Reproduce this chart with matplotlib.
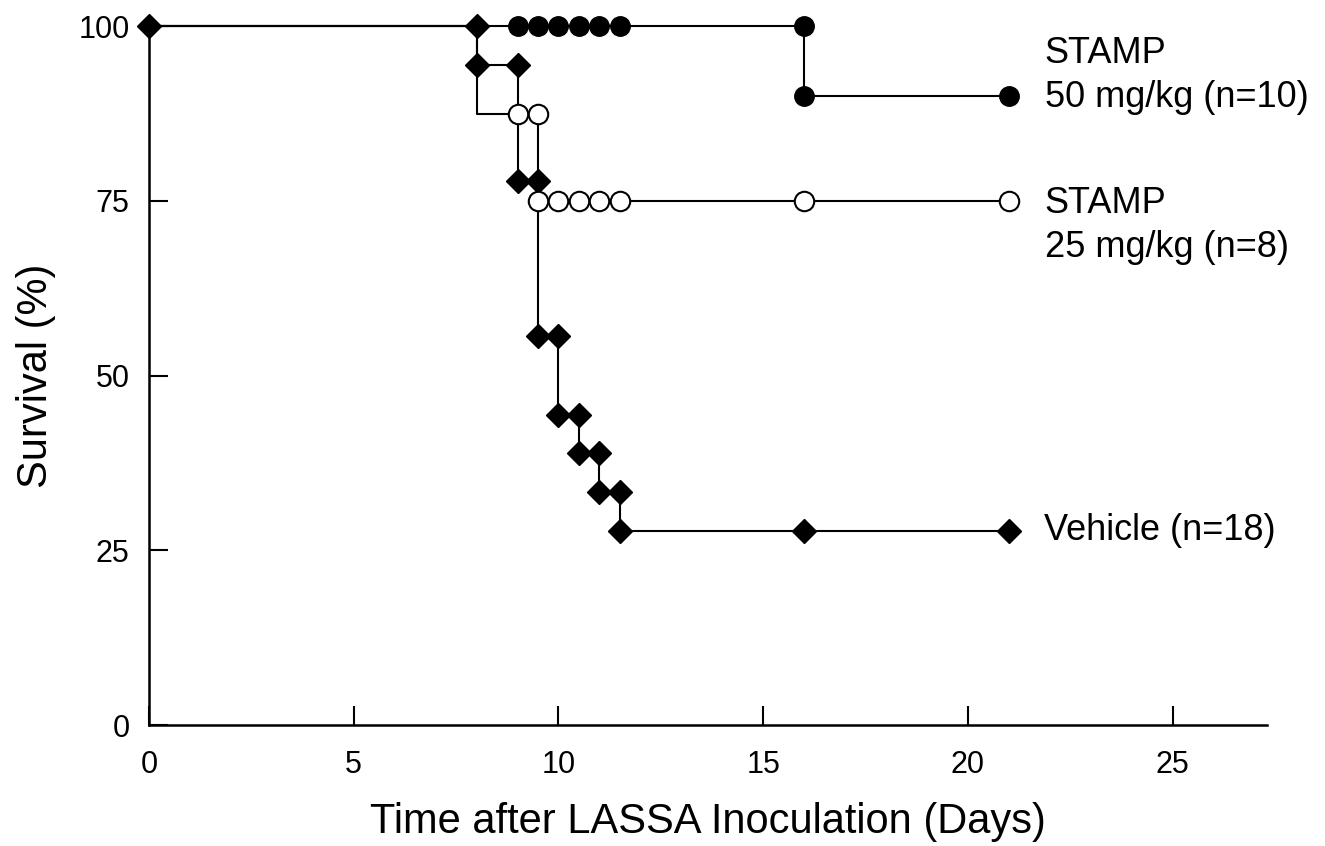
import matplotlib
matplotlib.use('Agg')
import matplotlib.pyplot as plt

plt.rcParams['font.family'] = ['Liberation Sans', 'DejaVu Sans']

# step curves (time, survival %)
veh_t = [0, 8, 9, 9.5, 10, 10.5, 11, 11.5, 21]
veh_s = [100, 94.4, 77.8, 55.6, 44.4, 38.9, 33.3, 27.8, 27.8]
s25_t = [0, 8, 9.5, 21]
s25_s = [100, 87.5, 75, 75]
s50_t = [0, 16, 21]
s50_s = [100, 90, 90]

# marker points
veh_mx = [0, 8, 8, 9, 9, 9.5, 9.5, 10, 10, 10.5, 10.5, 11, 11, 11.5, 11.5, 16, 21]
veh_my = [100, 100, 94.4, 94.4, 77.8, 77.8, 55.6, 55.6, 44.4, 44.4, 38.9, 38.9, 33.3, 33.3, 27.8, 27.8, 27.8]
s25_mx = [9, 9.5, 9.5, 10, 10.5, 11, 11.5, 16, 21]
s25_my = [87.5, 87.5, 75, 75, 75, 75, 75, 75, 75]
s50_mx = [9, 9.5, 10, 10.5, 11, 11.5, 16, 16, 21]
s50_my = [100, 100, 100, 100, 100, 100, 100, 90, 90]

lab50 = 'STAMP\n50 mg/kg (n=10)'
lab25 = 'STAMP\n25 mg/kg (n=8)'
labveh = 'Vehicle (n=18)'

fig = plt.figure(figsize=(13.25, 8.46), dpi=100)
ax = fig.add_axes([0.1125, 0.143, 0.8435, 0.826])

lw = 1.5
ax.step(veh_t, veh_s, where='post', color='black', lw=lw, clip_on=False, zorder=2)
ax.step(s25_t, s25_s, where='post', color='black', lw=lw, clip_on=False, zorder=2)
ax.step(s50_t, s50_s, where='post', color='black', lw=lw, clip_on=False, zorder=2)

ax.plot(veh_mx, veh_my, 'D', color='black', ms=12.5, ls='none', clip_on=False, zorder=3)
ax.plot(s50_mx, s50_my, 'o', color='black', ms=14, ls='none', clip_on=False, zorder=4)
ax.plot(s25_mx, s25_my, 'o', mfc='white', mec='black', mew=1.5, ms=14, ls='none',
        clip_on=False, zorder=5)

# labels at the end of each curve
ax.annotate(lab50, xy=(s50_t[-1], s50_s[-1]), xytext=(26, 15), textcoords='offset points',
            fontsize=26, ha='left', va='center', linespacing=1.33)
ax.annotate(lab25, xy=(s25_t[-1], s25_s[-1]), xytext=(26, -18), textcoords='offset points',
            fontsize=26, ha='left', va='center', linespacing=1.33)
ax.annotate(labveh, xy=(veh_t[-1], veh_s[-1]), xytext=(25, 0), textcoords='offset points',
            fontsize=26, ha='left', va='center')

ax.set_xlim(0, 27.3)
ax.set_ylim(0, 100)
ax.set_xticks([0, 5, 10, 15, 20, 25])
ax.set_yticks([0, 25, 50, 75, 100])
ax.tick_params(direction='in', length=14, width=1.5, labelsize=22)
ax.tick_params(axis='y', pad=14)
ax.tick_params(axis='x', pad=18)

for side in ['top', 'right']:
    ax.spines[side].set_visible(False)
for side in ['left', 'bottom']:
    ax.spines[side].set_linewidth(1.8)

ax.set_xlabel('Time after LASSA Inoculation (Days)', fontsize=30, labelpad=16)
ax.set_ylabel('Survival (%)', fontsize=30, labelpad=16)

fig.savefig('out.png', dpi=100)
